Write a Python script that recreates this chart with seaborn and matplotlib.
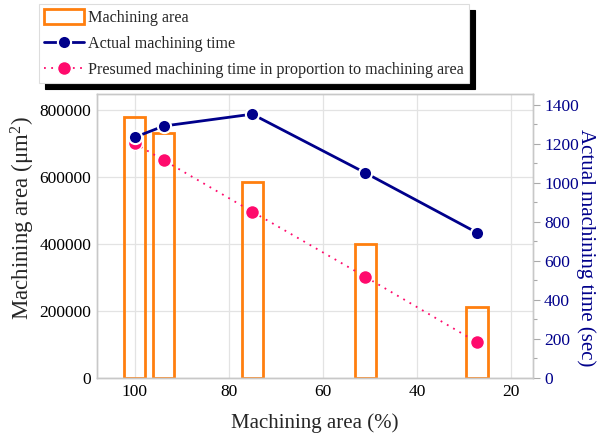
import matplotlib
matplotlib.use('Agg')
import matplotlib.pyplot as plt
import seaborn as sns
import pandas as pd
from matplotlib.patches import Patch
from matplotlib.lines import Line2D
from matplotlib.ticker import MultipleLocator, FuncFormatter

# ---- data ----
area_percent = [100.0, 93.8, 75.0, 51.0, 27.2]
machining_area = [780000, 732000, 585000, 398000, 212000]
actual_time = [1234, 1292, 1353, 1052, 744]
presumed_time = [1203, 1116, 852, 518, 181]
x_ticks = [100, 80, 60, 40, 20]
left_ticks = [0, 200000, 400000, 600000, 800000]
right_ticks = [0, 200, 400, 600, 800, 1000, 1200, 1400]

ORANGE = '#FF7F0E'
NAVY = '#00008B'
PINK = '#FF0A6C'
GRID = '#e3e3e3'
SPINE = '#c8c8c8'

sns.set_theme(style='white')
plt.rcParams['font.family'] = ['Liberation Serif', 'DejaVu Serif']
plt.rcParams['mathtext.fontset'] = 'custom'
plt.rcParams['mathtext.rm'] = 'Liberation Serif'
plt.rcParams['mathtext.it'] = 'Liberation Serif:italic'

df = pd.DataFrame({'pct': area_percent, 'area': machining_area,
                   'actual': actual_time, 'presumed': presumed_time})

fig = plt.figure(figsize=(6.03, 4.36), dpi=100)
ax = fig.add_axes([97/603, 1-377.5/436, (533-97)/603, (377.5-94.3)/436])
ax2 = ax.twinx()

min_gap = min(abs(a - b) for a, b in zip(sorted(area_percent)[1:], sorted(area_percent)[:-1]))
sns.barplot(data=df, x='pct', y='area', native_scale=True, orient='x',
            width=4.5/min_gap, fill=False, color=ORANGE, linewidth=2,
            errorbar=None, ax=ax, zorder=2)

sns.lineplot(data=df, x='pct', y='presumed', ax=ax2, sort=False, color=PINK,
             linestyle=(0, (1, 3)), linewidth=1.3, marker='o', markersize=10,
             markeredgecolor='white', markeredgewidth=1.0)
sns.lineplot(data=df, x='pct', y='actual', ax=ax2, sort=False, color=NAVY,
             linewidth=2, marker='o', markersize=9.5,
             markeredgecolor='white', markeredgewidth=1.5)

ax.set_xlim(108, 15.3)
ax.set_ylim(0, 847000)
ax2.set_ylim(0, 1455)

ax.set_xticks(x_ticks)
ax.set_yticks(left_ticks)
ax.yaxis.set_major_formatter(FuncFormatter(lambda v, p: f'{int(v)}'))
ax2.set_yticks(right_ticks)
ax2.yaxis.set_minor_locator(MultipleLocator(100))

ax.grid(True, color=GRID, linewidth=0.9, zorder=0)
ax.set_axisbelow(True)
ax2.grid(False)

ax.tick_params(axis='both', length=0, labelsize=12.5, colors='black')
ax.tick_params(axis='x', pad=5)
ax.tick_params(axis='y', pad=4)
ax2.tick_params(axis='y', which='major', direction='out', length=5, width=0.8,
                color='#aaaaaa', labelcolor=NAVY, labelsize=12.5, pad=3)
ax2.tick_params(axis='y', which='minor', direction='out', length=3, width=0.8,
                color='#aaaaaa')

for a in (ax, ax2):
    for s in a.spines.values():
        s.set_color(SPINE)
        s.set_linewidth(1.0)

ax.set_xlabel('Machining area (%)', fontsize=15, labelpad=9)
ax.set_ylabel('Machining area (μm$^{2}$)', fontsize=16.5, labelpad=1.5)
ax.yaxis.label.set_y(0.563)
ax2.set_ylabel('Actual machining time (sec)', fontsize=15, color=NAVY,
               rotation=270, labelpad=12)
ax2.yaxis.label.set_y(0.46)

handles = [
    Patch(facecolor='none', edgecolor=ORANGE, linewidth=2),
    Line2D([], [], color=NAVY, linewidth=2, marker='o', markersize=9.5,
           markeredgecolor='white', markeredgewidth=1.5),
    Line2D([], [], color=PINK, linewidth=1.3, linestyle=(0, (1, 3)), marker='o',
           markersize=10, markeredgecolor='white', markeredgewidth=1.0),
]
labels = ['Machining area', 'Actual machining time',
          'Presumed machining time in proportion to machining area']
leg = fig.legend(handles, labels, loc='upper left',
                 bbox_to_anchor=(39/603, 1-4/436), borderaxespad=0,
                 fontsize=11.6, frameon=True, fancybox=False,
                 edgecolor='#dddddd', framealpha=1, handlelength=2.45,
                 handleheight=1.0, handletextpad=0.3, labelspacing=0.58,
                 borderpad=0.32,
                 shadow={'ox': 4, 'oy': -4, 'color': 'black', 'alpha': 1})
leg.get_frame().set_linewidth(0.8)

fig.savefig('out.png', dpi=100)
